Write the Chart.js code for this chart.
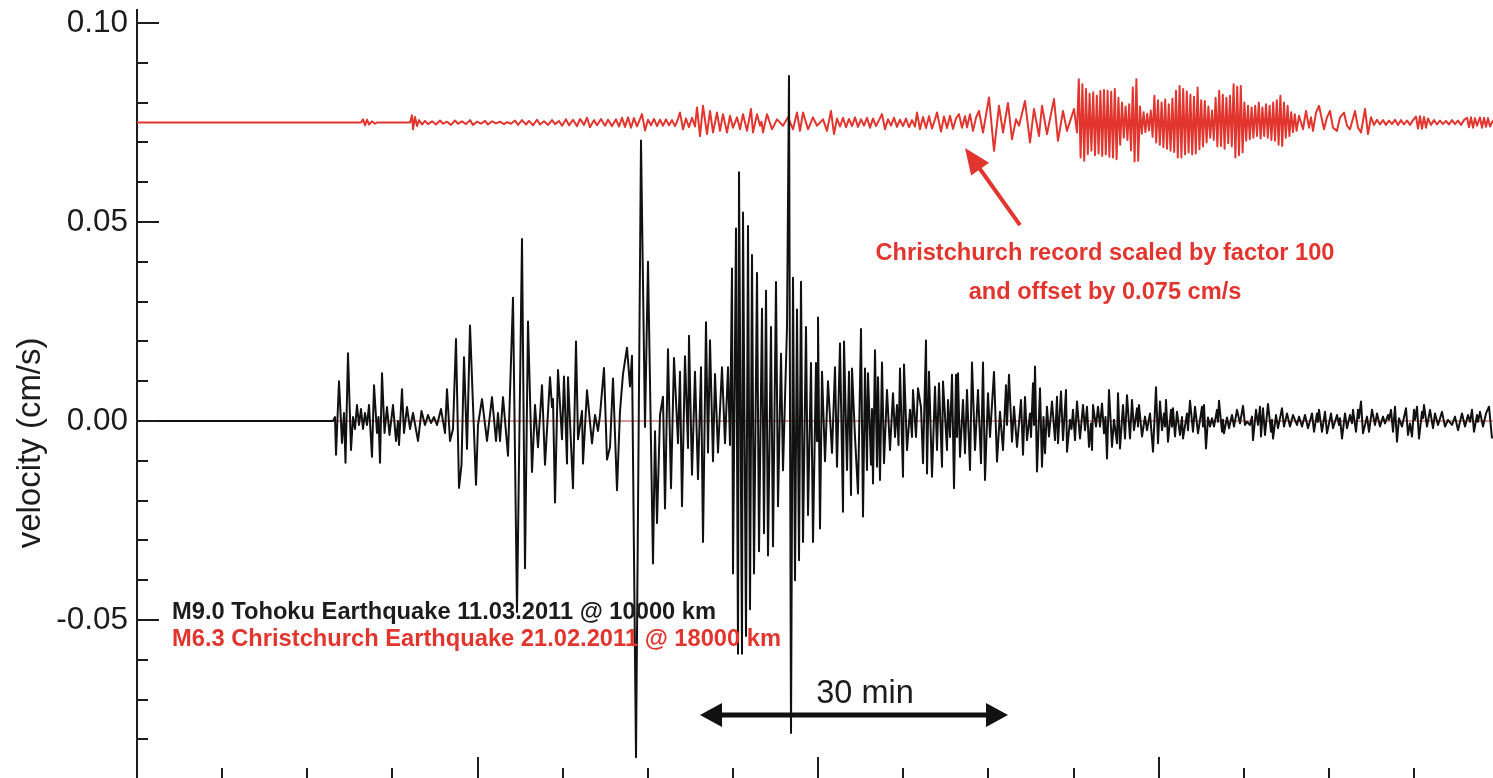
<!DOCTYPE html>
<html>
<head>
<meta charset="utf-8">
<title>Tohoku vs Christchurch velocity record</title>
<script src="https://cdn.jsdelivr.net/npm/chart.js@4.4.0/dist/chart.umd.min.js"></script>
<style>
  html, body { margin: 0; padding: 0; background: #fff; overflow: hidden; }
  #wrap { width: 1493px; height: 778px; position: relative; }
</style>
</head>
<body>
<div id="wrap"><canvas id="seismo"></canvas></div>
<script>
/* =========================
   DATA  (time in min, velocity in cm/s)
========================= */
const Y_TICKS = [-0.05, 0.00, 0.05, 0.10];
const TICK_STEP_MIN = 8.514;   // spacing of the unlabelled time ticks
const ARROW_FROM_MIN = 56.3;
const ARROW_TO_MIN = 87.1;

// M9.0 Tohoku, 10000 km
const tohokuTrace = [
  [0,0],[19.6,0],[19.8,0.001],[19.9,-0.0085],[20.2,0.010],[20.5,-0.0055],[20.7,0.002],[20.85,-0.0105],[21.1,0.017],[21.4,-0.0073],
  [21.6,0.001],[21.8,-0.002],[22.0,0.004],[22.2,-0.001],[22.4,0.003],[22.6,-0.002],[22.8,0.002],[23.0,-0.001],[23.2,0.004],[23.5,-0.009],
  [23.7,0.009],[24.0,-0.003],[24.15,0.001],[24.3,-0.0105],[24.5,0.012],[24.75,-0.003],[25.0,0.0035],[25.25,-0.0035],[25.6,0.004],[25.9,-0.005],
  [26.1,0],[26.2,-0.006],[26.5,0.008],[26.7,-0.003],[27.0,0.0035],[27.3,-0.002],[27.6,0.002],[28.1,-0.005],[28.45,0.0025],[28.8,-0.001],
  [29.1,0.0015],[29.4,-0.0005],[29.7,0.001],[30.0,-0.001],[30.4,0.003],[30.8,-0.003],[31.0,0.008],[31.3,-0.005],[31.6,-0.002],[31.9,0.0206],
  [32.2,-0.0168],[32.45,-0.011],[32.7,0.016],[33.0,-0.007],[33.3,0.024],[33.9,-0.016],[34.1,-0.001],[34.5,0.0055],[35.0,-0.005],[35.5,0.006],
  [35.9,-0.005],[36.1,0.002],[36.3,-0.005],[36.6,0.006],[37.1,-0.0087],[37.6,0.031],[38.0,-0.048],[38.5,0.0457],[38.8,-0.037],[39.1,0.025],
  [39.5,-0.0128],[39.8,0.004],[40.1,-0.0066],[40.5,0.009],[40.8,-0.011],[41.3,0.011],[41.5,0.0035],[41.6,0.0055],[41.8,-0.0205],[42.1,0.0128],
  [42.5,-0.0046],[42.7,0.0112],[43.0,-0.0107],[43.1,0.011],[43.6,-0.0169],[43.9,0.020],[44.1,-0.0046],[44.5,0.0025],[44.6,-0.0107],[45.0,0.0077],
  [45.5,-0.0056],[45.8,0.0015],[46.1,-0.0025],[46.3,0.0015],[46.7,0.0133],[47.0,-0.0097],[47.3,-0.0066],[47.6,0.0107],[48.0,-0.0174],[48.3,0.0025],
  [48.6,0.0118],[49.0,0.0184],[49.3,0.0087],[49.5,0.0164],[49.9,-0.0845],[50.4,0.0705],[50.8,-0.0015],[51.1,0.040],[51.6,-0.0358],[51.8,-0.0026],
  [52.0,-0.0256],[52.3,0.0015],[52.6,0.0061],[52.8,-0.022],[53.1,0.018],[53.4,-0.0169],[53.7,0.0158],[54.1,-0.0056],[54.3,0.0124],[54.5,-0.0214],
  [54.8,0.0163],[55.1,-0.0068],[55.2,0.0214],[55.5,-0.0135],[55.8,0.0124],[56.1,-0.0146],[56.4,0.0135],[56.6,-0.0304],[56.9,0.0248],[57.1,-0.0079],
  [57.3,0.0203],[57.6,-0.0101],[57.8,0.0118],[58.1,-0.0079],[58.5,0.0135],[58.8,-0.0056],[59.1,0.0135],[59.3,-0.006],[59.5,0.0383],[59.6,-0.0383],
  [59.9,0.0484],[60.1,-0.0585],[60.2,0.0625],[60.5,-0.0585],[60.6,0.0524],[60.9,-0.054],[61.1,0.049],[61.3,-0.0473],[61.5,0.0417],[61.7,-0.0383],
  [62.0,0.0372],[62.2,-0.0327],[62.5,0.0282],[62.7,-0.0282],[62.9,0.0327],[63.1,-0.0338],[63.4,0.0236],[63.6,-0.0315],[63.9,0.0349],[64.1,-0.0214],
  [64.4,0.0169],[64.6,-0.0124],[65.0,0.0236],[65.2,0.0867],[65.4,-0.0784],[65.6,0.036],[65.8,-0.040],[66.0,0.028],[66.2,-0.035],[66.4,0.035],
  [66.6,-0.0304],[66.9,0.0236],[67.1,-0.0236],[67.4,0.0146],[67.6,-0.0304],[67.9,0.0146],[68.0,-0.005],[68.1,0.026],[68.3,-0.027],[68.5,0.0124],
  [68.8,-0.0101],[69.1,0.010],[69.5,-0.008],[69.8,0.0135],[70.0,-0.0115],[70.3,0.0195],[70.6,-0.0228],[70.7,0.020],[71.0,-0.0123],[71.2,0.0124],
  [71.4,-0.0186],[71.5,0.0132],[71.8,-0.004],[72.1,-0.0182],[72.4,0.0231],[72.6,-0.024],[72.8,0.0132],[73.0,-0.0123],[73.1,0.012],[73.4,-0.011],
  [73.5,0.003],[73.6,-0.0157],[73.8,0.0178],[74.0,-0.0115],[74.1,0.011],[74.3,-0.0148],[74.5,0.0147],[74.7,-0.0106],[75.0,0.0078],[75.3,-0.0073],
  [75.6,0.007],[75.8,-0.004],[76.0,0.004],[76.15,-0.006],[76.3,0.0132],[76.6,-0.014],[76.7,0.0142],[77.0,-0.0073],[77.3,0.0028],[77.5,-0.004],
  [77.6,0.0078],[77.9,-0.004],[78.1,0.0082],[78.4,0.0035],[78.6,-0.0106],[78.9,0.0202],[79.0,-0.0132],[79.2,0.0124],[79.5,-0.014],[79.8,0.0086],
  [80.0,-0.0073],[80.2,0.0095],[80.5,-0.0115],[80.6,0.0099],[81.0,-0.0073],[81.1,0.0053],[81.3,-0.004],[81.5,0.0116],[81.7,-0.0169],[81.9,0.0116],
  [82.0,-0.004],[82.1,0.012],[82.3,-0.009],[82.6,0.0053],[82.8,-0.0081],[83.0,0.0078],[83.3,-0.0123],[83.5,0.0147],[83.8,-0.0073],[84.1,0.0078],
  [84.4,-0.0106],[84.6,0.0147],[84.8,-0.0148],[85.1,0.007],[85.3,-0.004],[85.7,0.0123],[86.0,-0.0102],[86.3,0.0023],[86.6,-0.0073],[86.9,0.009],
  [87.0,-0.001],[87.2,0.0116],[87.5,-0.0052],[87.7,0.0036],[88.0,-0.0065],[88.4,0.0053],[88.6,-0.0085],[88.8,0.006],[89.0,-0.0048],[89.3,0.0019],
  [89.4,-0.004],[89.6,0.0095],[89.7,-0.001],[89.8,0.0137],[90.0,-0.0127],[90.3,0.0082],[90.5,-0.0115],[90.65,0.001],[90.8,-0.0081],[91.0,0.0036],
  [91.2,-0.0039],[91.5,0.0049],[91.8,-0.0048],[92.0,0.0061],[92.1,-0.0056],[92.4,0.0074],[92.6,-0.0048],[92.9,0.0078],[93.0,-0.0077],[93.3,0.0003],
  [93.45,-0.002],[93.6,0.0028],[93.8,-0.0048],[94.0,0.0049],[94.3,-0.0044],[94.6,0.004],[94.8,-0.0023],[95.0,0.0036],[95.2,-0.0065],[95.4,-0.0006],
  [95.5,-0.0073],[95.6,0.004],[95.9,-0.0014],[96.1,0.0036],[96.3,-0.0014],[96.5,0.0044],[96.7,-0.0031],[96.85,0.001],[97.0,-0.0094],[97.2,0.0078],
  [97.5,-0.0065],[97.7,0.0003],[98.0,-0.0056],[98.1,0.007],[98.3,-0.0069],[98.6,0.004],[98.8,-0.0044],[99.0,0.0065],[99.3,-0.0044],[99.5,0.0053],
  [99.7,-0.0023],[100.0,0.0032],[100.1,-0.0014],[100.2,0.004],[100.5,-0.0039],[100.8,0.0011],[101.0,-0.0023],[101.3,0.0019],[101.6,-0.0077],[101.9,0.0085],
  [102.1,-0.0056],[102.3,0.0049],[102.5,-0.0023],[102.7,0.0019],[102.8,-0.0014],[102.9,0.0053],[103.1,-0.0052],[103.4,0.0028],[103.5,-0.0014],[103.6,0.0032],
  [103.8,-0.0039],[104.0,0.0023],[104.3,-0.0035],[104.5,0.001],[104.6,-0.0044],[105.0,0.0019],[105.1,-0.0023],[105.3,0.0051],[105.6,-0.0027],[105.8,0.0036],
  [106.1,-0.0031],[106.5,0.0036],[106.6,-0.0014],[106.7,0.004],[106.9,-0.0069],[107.1,0.0009],[107.3,-0.0014],[107.5,0.0007],[107.7,-0.0014],[108.0,0.0028],
  [108.1,-0.0002],[108.2,0.0051],[108.5,-0.0027],[108.6,0.0003],[108.7,-0.0031],[109.0,0.0009],[109.2,-0.0018],[109.5,0.0015],[109.7,-0.0014],[110.0,0.0028],
  [110.3,-0.0006],[110.6,0.0038],[110.8,-0.001],[111.0,-0.0002],[111.3,-0.001],[111.5,0.0011],[111.6,-0.0048],[111.9,0.0028],[112.1,-0.001],[112.3,0.0036],
  [112.4,-0.0039],[112.6,0.0032],[112.8,-0.0035],[113.1,0.0043],[113.4,-0.0027],[113.5,0.0003],[113.6,-0.0044],[113.9,0.0015],[114.1,-0.0018],[114.5,0.0032],
  [114.7,-0.0014],[115.0,0.0019],[115.3,-0.0014],[115.6,0.0015],[116.0,-0.001],[116.2,0.0011],[116.5,-0.0014],[116.8,0.0015],[117.1,-0.0018],[117.5,0.0019],
  [117.7,-0.0027],[118.0,0.0019],[118.1,-0.0002],[118.2,0.0028],[118.5,-0.0027],[118.8,0.0023],[119.0,-0.0031],[119.4,0.0019],[119.6,-0.0018],[120.0,0.0015],
  [120.2,-0.001],[120.3,0.0007],[120.5,-0.0044],[120.8,0.0019],[121.0,-0.0018],[121.3,0.0015],[121.5,-0.0006],[121.6,0.0028],[121.9,-0.0027],[122.1,0.0028],
  [122.2,0.0007],[122.4,0.0049],[122.6,-0.0031],[123.0,0.0011],[123.2,-0.0027],[123.5,0.0028],[123.8,-0.001],[124.0,0.0019],[124.3,-0.0014],[124.6,0.0011],
  [124.8,-0.0006],[125.1,0.0015],[125.2,0.0003],[125.4,0.0028],[125.6,-0.0027],[125.8,0.0036],[126.0,-0.0052],[126.2,0.0007],[126.5,-0.0014],[126.9,0.0032],
  [127.1,-0.0035],[127.3,-0.0006],[127.5,-0.0039],[127.7,0.0028],[127.8,0.0003],[128.0,0.0036],[128.2,-0.0044],[128.5,0.0023],[128.6,0.0007],[128.7,0.004],
  [129.0,-0.0014],[129.3,0.0028],[129.6,-0.0018],[129.8,0.0019],[130.1,-0.001],[130.5,0.0023],[130.8,-0.0014],[131.1,0.0003],[131.5,-0.001],[131.8,0.0011],
  [132.1,-0.0023],[132.5,0.0019],[132.8,-0.0014],[133.1,0.0015],[133.3,-0.0002],[133.5,0.0028],[133.7,-0.0027],[134.0,0.0015],[134.1,-0.0002],[134.3,0.0023],
  [134.6,-0.0014],[134.9,0.0019],[135.2,0.0036],[135.5,-0.0044]
];

// M6.3 Christchurch, 18000 km, x100 and offset by 0.075 cm/s
const christchurchTrace = [
  [0,0.075],[22.4,0.075],[22.6,0.0758],[22.8,0.0743],[23.0,0.0757],[23.2,0.0745],[23.5,0.0753],[23.8,0.0747],[24.0,0.075],[27.3,0.075],
  [27.5,0.0768],[27.6,0.0733],[27.8,0.0764],[28.0,0.0741],[28.2,0.0756],[28.5,0.0745],[28.8,0.0754],[29.1,0.0746],[29.5,0.0753],[29.9,0.0745],
  [30.3,0.0755],[30.6,0.0747],[31.0,0.0752],[31.4,0.0744],[31.8,0.0755],[32.1,0.0747],[32.5,0.0753],[32.9,0.0746],[33.3,0.0756],[33.6,0.0744],
  [34.0,0.0752],[34.4,0.0747],[34.8,0.0754],[35.1,0.0745],[35.5,0.0753],[35.9,0.0748],[36.3,0.0752],[36.7,0.0746],[37.0,0.0751],[37.4,0.0747],
  [37.8,0.0755],[38.1,0.0744],[38.5,0.0756],[38.9,0.0745],[39.2,0.0754],[39.6,0.0743],[40.0,0.0757],[40.3,0.0745],[40.7,0.0753],[41.1,0.0744],
  [41.5,0.0756],[41.8,0.0746],[42.2,0.0754],[42.5,0.0742],[42.9,0.0758],[43.2,0.0743],[43.6,0.0757],[44.0,0.0741],[44.3,0.0759],[44.7,0.0744],
  [45.0,0.0762],[45.3,0.0738],[45.7,0.0756],[46.0,0.0743],[46.4,0.0759],[46.8,0.0742],[47.1,0.0757],[47.5,0.0741],[47.9,0.0758],[48.2,0.0740],
  [48.5,0.0762],[48.8,0.0739],[49.1,0.0763],[49.4,0.0737],[49.7,0.0761],[50.0,0.0740],[50.5,0.0771],[50.8,0.0730],[51.1,0.0757],[51.4,0.0743],
  [51.7,0.0759],[52.0,0.0741],[52.3,0.0757],[52.6,0.0742],[52.9,0.0758],[53.2,0.0743],[53.5,0.0756],[53.8,0.0741],[54.0,0.0752],[54.3,0.0775],
  [54.6,0.0733],[54.9,0.0760],[55.2,0.0738],[55.5,0.0762],[55.8,0.0740],[56.0,0.0788],[56.3,0.0716],[56.6,0.0792],[57.0,0.0721],[57.3,0.0779],
  [57.6,0.0725],[58.0,0.0775],[58.3,0.0729],[58.6,0.0771],[59.0,0.0725],[59.3,0.0767],[59.6,0.0737],[60.0,0.0763],[60.3,0.0733],[60.6,0.0771],
  [61.0,0.0729],[61.4,0.0784],[61.6,0.0725],[62.0,0.0771],[62.3,0.0742],[62.45,0.0752],[62.6,0.0725],[63.0,0.0771],[63.5,0.0733],[64.0,0.0758],
  [64.6,0.0742],[65.1,0.0763],[65.6,0.0733],[66.0,0.0775],[66.3,0.0729],[66.6,0.0775],[67.1,0.0733],[67.6,0.0763],[68.0,0.0742],[68.6,0.0758],
  [69.0,0.0729],[69.4,0.0779],[69.7,0.0721],[70.0,0.0760],[70.3,0.0740],[70.6,0.0762],[70.9,0.0738],[71.2,0.0759],[71.5,0.0741],[71.8,0.0763],
  [72.1,0.0739],[72.4,0.0758],[72.7,0.0742],[73.0,0.0762],[73.3,0.0737],[73.6,0.0760],[73.9,0.0741],[74.2,0.0756],[74.5,0.0771],[74.8,0.0733],
  [75.1,0.0758],[75.4,0.0742],[75.7,0.0762],[76.0,0.0739],[76.3,0.0757],[76.6,0.0741],[76.9,0.0760],[77.2,0.0738],[77.5,0.0756],[77.8,0.0740],
  [78.0,0.0775],[78.3,0.0733],[78.6,0.0764],[78.9,0.0736],[79.2,0.0766],[79.5,0.0735],[79.8,0.0758],[80.0,0.0775],[80.4,0.0727],[80.7,0.0765],
  [81.0,0.0736],[81.3,0.0767],[81.6,0.0734],[81.9,0.0760],[82.2,0.0771],[82.5,0.0737],[82.8,0.0766],[83.0,0.0738],[83.3,0.0771],[83.6,0.0729],
  [83.9,0.0762],[84.2,0.0779],[84.6,0.0725],[85.2,0.0813],[85.7,0.0679],[86.2,0.0792],[86.6,0.0725],[87.1,0.0799],[87.5,0.0708],[87.9,0.0758],
  [88.2,0.0742],[88.8,0.0804],[89.3,0.0700],[89.7,0.0784],[90.2,0.0716],[90.5,0.0792],[91.0,0.0721],[91.7,0.0809],[92.1,0.0704],[92.6,0.0779],
  [93.0,0.0729],[93.7,0.0784],[94.0,0.0725],
  [94.18,0.0859],[94.36,0.0662],[94.54,0.0846],[94.72,0.0654],[94.90,0.0834],[95.08,0.0671],[95.26,0.0822],[95.44,0.0679],[95.62,0.0826],[95.80,0.0668],
  [95.98,0.0817],[96.16,0.0672],[96.34,0.0829],[96.52,0.0666],[96.70,0.0832],[96.88,0.0670],[97.06,0.0830],[97.24,0.0664],[97.42,0.0827],[97.60,0.0662],
  [97.78,0.0834],[97.96,0.0658],[98.14,0.0812],[98.32,0.0694],[98.50,0.0800],[98.68,0.0712],[98.86,0.0790],[99.04,0.0706],[99.22,0.0796],[99.40,0.0680],
  [99.58,0.0838],[99.76,0.0652],[99.94,0.0859],[100.12,0.0654],[100.30,0.0790],[100.48,0.0722],[100.66,0.0776],[100.84,0.0726],[101.02,0.0772],[101.20,0.0730],
  [101.38,0.0780],[101.56,0.0714],[101.74,0.0817],[101.92,0.0700],[102.10,0.0806],[102.28,0.0694],[102.46,0.0800],[102.64,0.0688],[102.82,0.0808],[103.00,0.0684],
  [103.18,0.0796],[103.36,0.0679],[103.54,0.0810],[103.72,0.0676],[103.90,0.0830],[104.08,0.0662],[104.26,0.0842],[104.44,0.0662],[104.62,0.0834],[104.80,0.0670],
  [104.98,0.0828],[105.16,0.0675],[105.34,0.0820],[105.52,0.0670],[105.70,0.0815],[105.88,0.0672],[106.06,0.0838],[106.24,0.0683],[106.42,0.0806],[106.60,0.0690],
  [106.78,0.0804],[106.96,0.0700],[107.14,0.0790],[107.32,0.0712],[107.50,0.0780],[107.68,0.0706],[107.86,0.0812],[108.04,0.0690],[108.22,0.0830],[108.40,0.0691],
  [108.58,0.0820],[108.76,0.0684],[108.94,0.0812],[109.12,0.0698],[109.30,0.0817],[109.48,0.0690],[109.66,0.0846],[109.84,0.0662],[110.02,0.0840],[110.20,0.0668],
  [110.38,0.0842],[110.56,0.0675],[110.74,0.0800],[110.92,0.0704],[111.10,0.0792],[111.28,0.0708],[111.46,0.0788],[111.64,0.0712],[111.82,0.0792],[112.00,0.0716],
  [112.18,0.0800],[112.36,0.0710],[112.54,0.0788],[112.72,0.0716],[112.90,0.0796],[113.08,0.0712],[113.26,0.0792],[113.44,0.0706],[113.62,0.0800],[113.80,0.0704],
  [113.98,0.0806],[114.16,0.0694],[114.34,0.0817],[114.52,0.0691],[114.70,0.0800],[114.88,0.0712],[115.06,0.0792],[115.24,0.0716],[115.42,0.0776],[115.60,0.0726],
  [115.78,0.0771],[115.96,0.0729],
  [116.2,0.0767],[116.6,0.0733],[116.9,0.0779],[117.2,0.0737],[117.4,0.0763],[117.6,0.0729],[117.9,0.0775],[118.2,0.0792],[118.7,0.0733],
  [119.0,0.0763],[119.3,0.0779],[119.6,0.0737],[120.0,0.0729],[120.3,0.0763],[120.7,0.0775],[121.0,0.0742],[121.3,0.0733],[121.8,0.0779],[122.1,0.0737],
  [122.4,0.0725],[122.8,0.0784],[123.1,0.0721],[123.4,0.0763],[123.7,0.0744],[124.0,0.0757],[124.3,0.0745],[124.6,0.0756],[124.9,0.0744],[125.2,0.0755],
  [125.5,0.0746],[125.8,0.0757],[126.1,0.0744],[126.4,0.0756],[126.7,0.0745],[127.0,0.0755],[127.3,0.0744],[127.6,0.0756],[127.9,0.0765],[128.1,0.0735],
  [128.3,0.0766],[128.5,0.0734],[128.7,0.0764],[128.9,0.0737],[129.1,0.0760],[129.4,0.0744],[129.7,0.0756],[130.0,0.0745],[130.3,0.0755],[130.6,0.0746],
  [130.9,0.0754],[131.2,0.0745],[131.5,0.0756],[131.8,0.0746],[132.1,0.0755],[132.4,0.0744],[132.7,0.0756],[133.0,0.0762],[133.2,0.0738],[133.4,0.0763],
  [133.6,0.0737],[133.8,0.0761],[134.0,0.0742],[134.3,0.0763],[134.5,0.0737],[134.7,0.0762],[134.9,0.0739],[135.1,0.0761],[135.3,0.0740],[135.6,0.0755]
];

// Christchurch record at true scale (flat at this resolution)
const christchurchRaw = [[0,0],[135.6,0]];

/* =========================
   STYLE
========================= */
const FONT = "'Liberation Sans', Arial, Helvetica, sans-serif";
const INK = "#1c1c1c";
const RED = "#e1352e";

const toXY = arr => arr.map(p => ({ x: p[0], y: p[1] }));

/* =========================
   AXIS TICKS, LABELS, ARROWS
========================= */
function arrowHead(ctx, x1, y1, x2, y2, len, half) {
  const a = Math.atan2(y2 - y1, x2 - x1);
  ctx.beginPath();
  ctx.moveTo(x2, y2);
  ctx.lineTo(x2 - len * Math.cos(a) + half * Math.sin(a), y2 - len * Math.sin(a) - half * Math.cos(a));
  ctx.lineTo(x2 - len * Math.cos(a) - half * Math.sin(a), y2 - len * Math.sin(a) + half * Math.cos(a));
  ctx.closePath();
  ctx.fill();
}

const decor = {
  id: "decor",
  afterDraw(chart) {
    const { ctx, chartArea: area } = chart;
    const xs = chart.scales.x, ys = chart.scales.y;
    ctx.save();

    // y ticks, pointing into the plot
    ctx.strokeStyle = INK;
    ctx.lineWidth = 2;
    for (let k = -8; k <= 10; k++) {
      const py = Math.round(ys.getPixelForValue(k / 100));
      const len = k % 5 === 0 ? 22 : 11;
      ctx.beginPath();
      ctx.moveTo(area.left, py);
      ctx.lineTo(area.left + len, py);
      ctx.stroke();
    }

    // time ticks standing on the (cropped) bottom axis
    for (let i = 1; i * TICK_STEP_MIN < xs.max; i++) {
      const px = Math.round(xs.getPixelForValue(i * TICK_STEP_MIN));
      const len = i % 4 === 0 ? 21 : 10;
      ctx.beginPath();
      ctx.moveTo(px, area.bottom);
      ctx.lineTo(px, area.bottom - len);
      ctx.stroke();
    }

    // y axis title
    ctx.fillStyle = INK;
    ctx.font = `33px ${FONT}`;
    ctx.textAlign = "center";
    ctx.textBaseline = "middle";
    ctx.save();
    ctx.translate(31, ys.getPixelForValue(-0.0055));
    ctx.rotate(-Math.PI / 2);
    ctx.fillText("velocity (cm/s)", 0, 0);
    ctx.restore();

    // legend lines
    ctx.textAlign = "left";
    ctx.font = `bold 23.7px ${FONT}`;
    ctx.fillStyle = INK;
    ctx.fillText("M9.0 Tohoku Earthquake 11.03.2011 @ 10000 km", xs.getPixelForValue(3.5), ys.getPixelForValue(-0.0482));
    ctx.fillStyle = RED;
    ctx.fillText("M6.3 Christchurch Earthquake 21.02.2011 @ 18000 km", xs.getPixelForValue(3.5), ys.getPixelForValue(-0.0550));

    // red note + arrow
    ctx.textAlign = "center";
    ctx.font = `bold 23.6px ${FONT}`;
    ctx.fillText("Christchurch record scaled by factor 100", xs.getPixelForValue(96.8), ys.getPixelForValue(0.0422));
    ctx.fillText("and offset by 0.075 cm/s", xs.getPixelForValue(96.8), ys.getPixelForValue(0.0324));
    const ax1 = xs.getPixelForValue(88.3), ay1 = ys.getPixelForValue(0.0492);
    const ax2 = xs.getPixelForValue(82.8), ay2 = ys.getPixelForValue(0.0686);
    const ang = Math.atan2(ay2 - ay1, ax2 - ax1);
    ctx.strokeStyle = RED;
    ctx.lineWidth = 4;
    ctx.beginPath();
    ctx.moveTo(ax1, ay1);
    ctx.lineTo(ax2 - 20 * Math.cos(ang), ay2 - 20 * Math.sin(ang));
    ctx.stroke();
    arrowHead(ctx, ax1, ay1, ax2, ay2, 26, 11);

    // 30 min scale bar
    const bx1 = xs.getPixelForValue(ARROW_FROM_MIN), bx2 = xs.getPixelForValue(ARROW_TO_MIN);
    const by = ys.getPixelForValue(-0.0739);
    ctx.strokeStyle = "#111";
    ctx.fillStyle = "#111";
    ctx.lineWidth = 5;
    ctx.beginPath();
    ctx.moveTo(bx1 + 15, by);
    ctx.lineTo(bx2 - 15, by);
    ctx.stroke();
    arrowHead(ctx, bx2, by, bx1, by, 22, 12);
    arrowHead(ctx, bx1, by, bx2, by, 22, 12);
    ctx.font = `32.5px ${FONT}`;
    ctx.textBaseline = "alphabetic";
    ctx.fillStyle = INK;
    ctx.fillText("30 min", xs.getPixelForValue(72.8), ys.getPixelForValue(-0.0709));

    ctx.restore();
  }
};

/* =========================
   CHART
========================= */
new Chart(document.getElementById("seismo"), {
  type: "line",
  data: {
    datasets: [
      {
        label: "Tohoku",
        data: toXY(tohokuTrace),
        borderColor: "#111",
        borderWidth: 2,
        order: 1
      },
      {
        label: "Christchurch x100 + 0.075",
        data: toXY(christchurchTrace),
        borderColor: RED,
        borderWidth: 2,
        order: 2
      },
      {
        label: "Christchurch",
        data: toXY(christchurchRaw),
        borderColor: "#b8322c",
        borderWidth: 1,
        order: 3
      }
    ]
  },
  options: {
    responsive: true,
    maintainAspectRatio: false,
    animation: false,
    devicePixelRatio: 1,
    layout: { padding: { top: 10, right: 0, bottom: 0, left: 0 } },
    elements: {
      point: { radius: 0 },
      line: { tension: 0, borderJoinStyle: "round", fill: false }
    },
    plugins: {
      legend: { display: false },
      tooltip: { enabled: false },
      title: { display: false }
    },
    scales: {
      x: {
        type: "linear",
        min: 0,
        max: 135.6,
        display: false
      },
      y: {
        type: "linear",
        min: -0.0897,
        max: 0.10327,
        // fixed gutter, no label overhang padding above/below the plot
        afterFit: s => { s.width = 137; s.paddingTop = 0; s.paddingBottom = 0; },
        afterBuildTicks: s => { s.ticks = Y_TICKS.map(v => ({ value: v })); },
        grid: { display: false, drawTicks: false },
        border: { display: true, color: INK, width: 2 },
        ticks: {
          padding: 9,
          color: INK,
          font: { family: FONT, size: 31.5 },
          callback: v => v.toFixed(2)
        }
      }
    }
  },
  plugins: [decor]
});
</script>
</body>
</html>
